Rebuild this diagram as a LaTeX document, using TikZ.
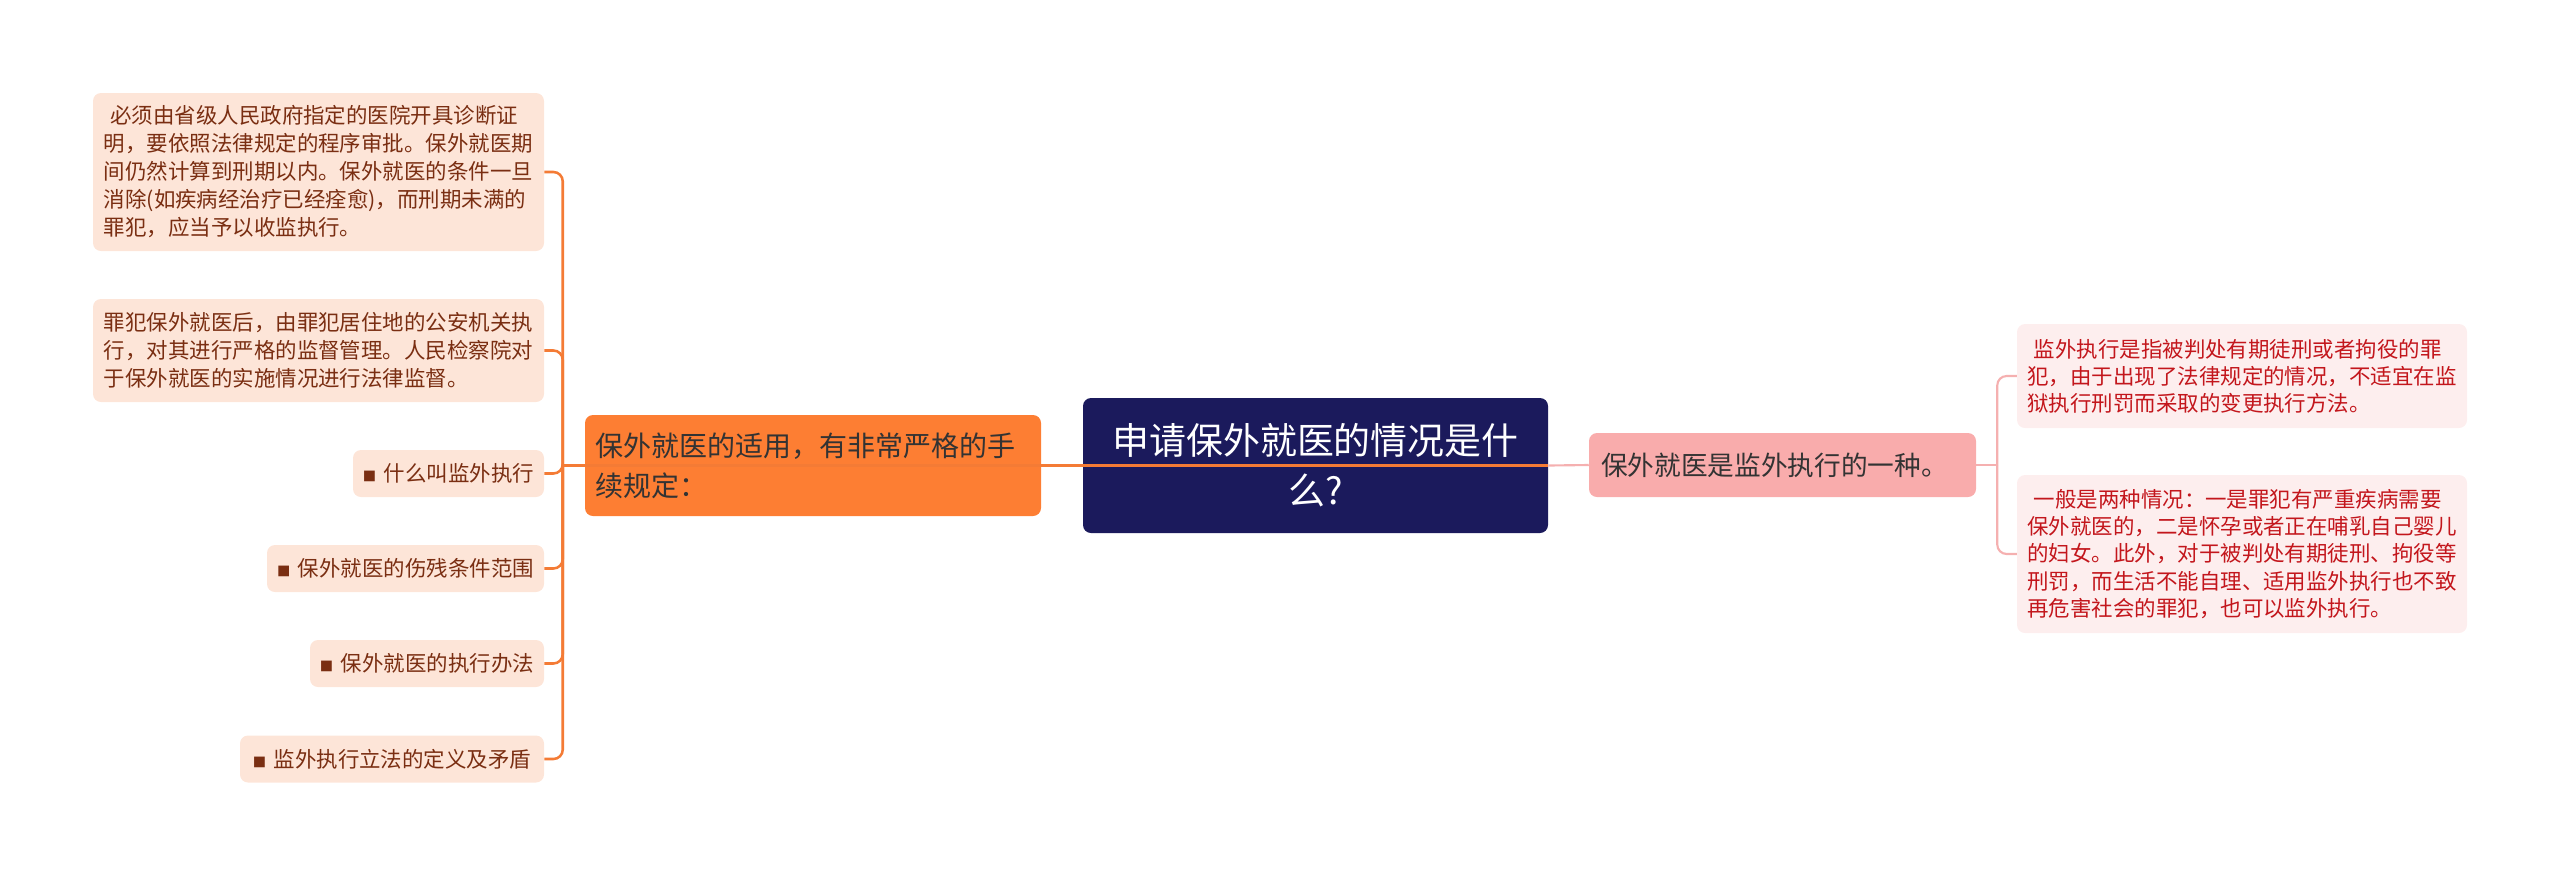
\documentclass[tikz,border=0pt]{standalone}
\usepackage{fontspec}
\setmainfont{Noto Sans CJK SC}
\definecolor{navy}{HTML}{1B1A5C}
\definecolor{orgfill}{HTML}{FD7E33}
\definecolor{orgline}{HTML}{F47B35}
\definecolor{peach}{HTML}{FDE5D8}
\definecolor{brown}{HTML}{7A2E12}
\definecolor{pinkfill}{HTML}{F9ACAC}
\definecolor{pinkline}{HTML}{F5B0B0}
\definecolor{rosefill}{HTML}{FDEEEE}
\definecolor{redtext}{HTML}{C3161C}
\tikzset{
  box/.style={rounded corners=6pt, inner sep=0pt, align=left, anchor=center},
  centralbox/.style={box, fill=navy, text=white, align=center, minimum width=465*0.75pt, minimum height=135*0.75pt,
     font=\fontsize{27.7pt}{37.5pt}\selectfont},
  orgbox/.style={box, fill=orgfill, text=black!80, minimum width=456*0.75pt, minimum height=101*0.75pt,
     text width=436*0.75pt, font=\fontsize{21pt}{30pt}\selectfont},
  pinkbox/.style={box, fill=pinkfill, text=black!80, minimum width=387*0.75pt, minimum height=64*0.75pt,
     text width=363*0.75pt, font=\fontsize{20pt}{27pt}\selectfont},
  lleaf/.style={box, fill=peach, text=brown, minimum height=47*0.75pt,
     font=\fontsize{16.1pt}{21pt}\selectfont},
  rleaf/.style={box, fill=rosefill, text=redtext, minimum width=450*0.75pt,
     font=\fontsize{16.1pt}{20.3pt}\selectfont},
  lconn/.style={draw=orgline, line width=1.9pt, rounded corners=7pt},
  rconn/.style={draw=pinkline, line width=1.6pt, rounded corners=7pt},
}
\newcommand{\blt}{{\fontsize{10pt}{10pt}\selectfont ■}\hspace{0.35em}}
\begin{document}
\begin{tikzpicture}[x=0.75pt,y=-0.75pt]
\useasboundingbox (0,0) rectangle (2560,876);
% central
\node[centralbox] (c) at (1315.5,465.5) {申请保外就医的情况是什\\么?};
% left main
\node[orgbox] (org) at (813,465.5) {保外就医的适用，有非常严格的手\\续规定：};
% right main
\node[pinkbox] (pk) at (1782.5,465) {保外就医是监外执行的一种。};
% left leaves
\node[lleaf, minimum width=451*0.75pt, minimum height=158*0.75pt] (L1) at (318.5,172)
  {\hspace*{0.3em}必须由省级人民政府指定的医院开具诊断证\\明，要依照法律规定的程序审批。保外就医期\\间仍然计算到刑期以内。保外就医的条件一旦\\消除(如疾病经治疗已经痊愈)，而刑期未满的\\罪犯，应当予以收监执行。};
\node[lleaf, minimum width=451*0.75pt, minimum height=103*0.75pt] (L2) at (318.5,350.5)
  {罪犯保外就医后，由罪犯居住地的公安机关执\\行，对其进行严格的监督管理。人民检察院对\\于保外就医的实施情况进行法律监督。};
\node[lleaf, minimum width=191*0.75pt] (L3) at (448.5,473.5) {\blt 什么叫监外执行};
\node[lleaf, minimum width=277*0.75pt] (L4) at (405.5,568.5) {\blt 保外就医的伤残条件范围};
\node[lleaf, minimum width=234*0.75pt] (L5) at (427,663.5) {\blt 保外就医的执行办法};
\node[lleaf, minimum width=304*0.75pt] (L6) at (392,759) {\blt 监外执行立法的定义及矛盾};
% right leaves
\node[rleaf, minimum height=104*0.75pt] (R1) at (2242,376)
  {\hspace*{0.3em}监外执行是指被判处有期徒刑或者拘役的罪\\犯，由于出现了法律规定的情况，不适宜在监\\狱执行刑罚而采取的变更执行方法。};
\node[rleaf, minimum height=158*0.75pt] (R2) at (2242,554)
  {\hspace*{0.3em}一般是两种情况：一是罪犯有严重疾病需要\\保外就医的，二是怀孕或者正在哺乳自己婴儿\\的妇女。此外，对于被判处有期徒刑、拘役等\\刑罚，而生活不能自理、适用监外执行也不致\\再危害社会的罪犯，也可以监外执行。};
% connectors
\draw[rconn] (c.east) -- (pk.west);
\draw[lconn] (c.east) -- (org.west) -- ++(-22,0) coordinate (ls);
\foreach \n in {L1,L2,L3,L4,L5,L6} \draw[lconn] (ls) |- (\n.east);
\draw[rconn] (pk.east) -- ++(21,0) coordinate (rs);
\foreach \n in {R1,R2} \draw[rconn] (rs) |- (\n.west);
\end{tikzpicture}
\end{document}
